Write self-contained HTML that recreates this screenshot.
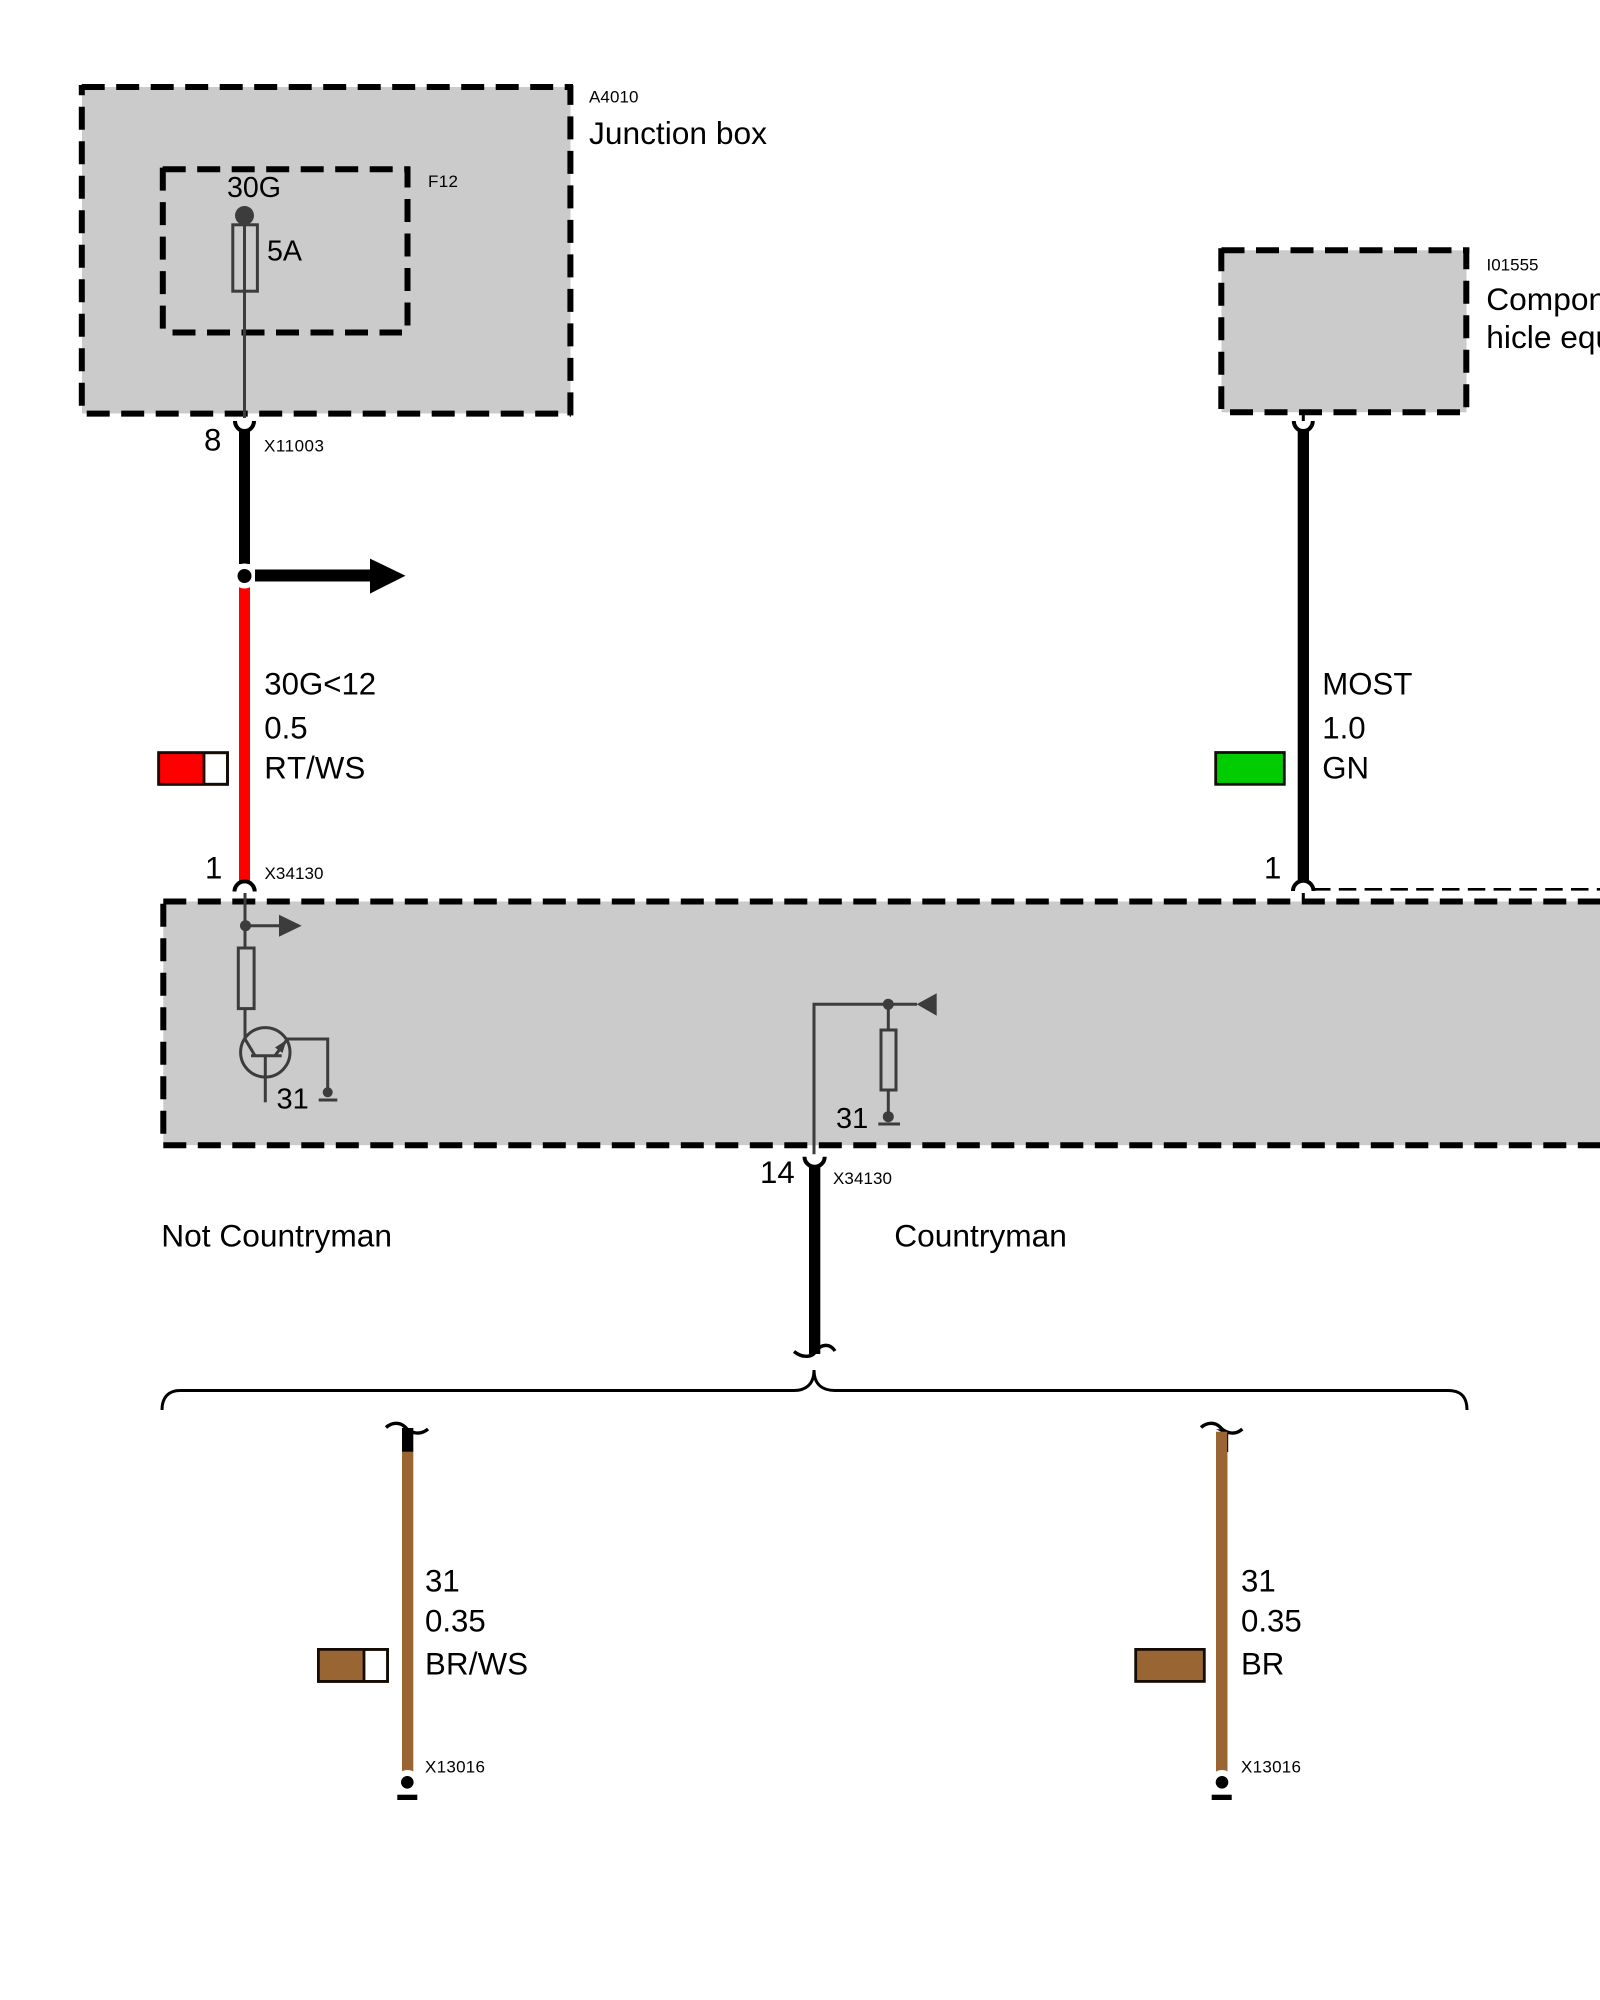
<!DOCTYPE html>
<html><head><meta charset="utf-8"><style>
html,body{margin:0;padding:0;background:#fff;width:1600px;height:2000px;overflow:hidden}
svg{display:block}
text{font-family:"Liberation Sans",sans-serif;fill:#000}
.s{font-size:17px}.m{font-size:31.2px}.l{font-size:31.7px}
.d{stroke:#000;stroke-width:6;stroke-dasharray:23 11.5;fill:none}
.g{stroke:#3c3c3c;stroke-width:3;fill:none}
.gf{fill:#3c3c3c}
.k{stroke:#000;stroke-width:3.4;fill:none}
.c{stroke:#000;stroke-width:4;fill:none}
.sw{stroke:#140c04;stroke-width:2.8}
</style></head><body>
<svg width="1600" height="2000" viewBox="0 0 1600 2000" xmlns="http://www.w3.org/2000/svg">
<rect width="1600" height="2000" fill="#fff"/>
<!-- Junction box -->
<rect x="82" y="87" width="488.5" height="326.5" fill="#cbcbcb"/>
<line class="d" x1="81.7" y1="87" x2="573" y2="87"/>
<line class="d" x1="81.8" y1="85" x2="81.8" y2="407.5" stroke-dashoffset="12.7"/>
<line class="d" x1="570.4" y1="85" x2="570.4" y2="416" stroke-dashoffset="3.1"/>
<line class="d" x1="86.7" y1="413.6" x2="571" y2="413.6"/>
<!-- Inner F12 -->
<line class="d" x1="160" y1="169.3" x2="410" y2="169.3" stroke-dashoffset="-2.7"/>
<line class="d" x1="162.8" y1="167" x2="162.8" y2="330" stroke-dashoffset="-0.6"/>
<line class="d" x1="407.5" y1="166.5" x2="407.5" y2="326.5" stroke-dashoffset="2"/>
<line class="d" x1="172.5" y1="332.5" x2="402" y2="332.5"/>
<rect class="g" x="232.8" y="224.8" width="24.6" height="66.4"/>
<line class="g" x1="244.5" y1="215" x2="244.5" y2="418"/>
<ellipse class="gf" cx="244.5" cy="215.5" rx="9.5" ry="9.5"/>
<text x="227" y="197.2" style="font-size:28.6px">30G</text>
<text x="267" y="260.5" style="font-size:28.6px">5A</text>
<text class="s" x="428" y="187" textLength="30">F12</text>
<text class="s" x="589" y="102.5" textLength="49.5">A4010</text>
<text class="l" x="589" y="144">Junction box</text>
<!-- Wire 1 top -->
<path class="c" d="M235,421 A9.5,10 0 0 0 254,421"/>
<rect x="239" y="430" width="11" height="134" fill="#000"/>
<text class="m" x="204" y="450.5">8</text>
<text class="s" x="264" y="451.5" textLength="60">X11003</text>
<!-- junction & arrow -->
<rect x="239" y="587" width="11" height="294" fill="#ff0000"/>
<circle cx="244.5" cy="576" r="12.5" fill="#fff"/>
<circle cx="244.5" cy="576" r="7" fill="#000"/>
<rect x="255" y="569.5" width="116" height="12" fill="#000"/>
<polygon points="370,558.6 405.5,575.7 370,593.6" fill="#000"/>
<text class="m" x="264.3" y="694.7">30G&lt;12</text>
<text class="m" x="264.3" y="738.5">0.5</text>
<text class="m" x="264.3" y="778.5" style="font-kerning:none" textLength="101">RT/WS</text>
<rect class="sw" x="158.7" y="752.7" width="68.8" height="31.6" fill="#fff"/>
<rect x="158.7" y="752.7" width="45.3" height="31.6" fill="#ff0000"/>
<rect class="sw" x="158.7" y="752.7" width="68.8" height="31.6" fill="none"/>
<line class="sw" x1="204" y1="752" x2="204" y2="785"/>
<!-- Component box -->
<rect x="1221.5" y="250.3" width="245" height="162" fill="#cbcbcb"/>
<line class="d" x1="1221.5" y1="250.3" x2="1469.3" y2="250.3"/>
<line class="d" x1="1221.3" y1="248.2" x2="1221.3" y2="409"/>
<line class="d" x1="1466.3" y1="248" x2="1466.3" y2="408" stroke-dashoffset="1.8"/>
<line class="d" x1="1230" y1="412.3" x2="1460" y2="412.3"/>
<line x1="1303.3" y1="412" x2="1303.3" y2="421" stroke="#000" stroke-width="3"/>
<text class="s" x="1486.5" y="270.5" textLength="52">I01555</text>
<text class="l" x="1486.3" y="310">Component of ve-</text>
<text class="l" x="1486.3" y="348">hicle equipment</text>
<path class="c" d="M1293.8,421 A9.5,10 0 0 0 1312.8,421"/>
<rect x="1297.7" y="430" width="11.3" height="450" fill="#000"/>
<text class="m" x="1322.3" y="694.7">MOST</text>
<text class="m" x="1322.3" y="738.5">1.0</text>
<text class="m" x="1322.3" y="778.5">GN</text>
<rect class="sw" x="1215.7" y="752.5" width="68.6" height="31.8" fill="#00cc00"/>
<text class="m" x="1264" y="878.7">1</text>
<!-- Main module -->
<rect x="163.3" y="901.5" width="1437" height="243.7" fill="#cbcbcb"/>
<line class="d" x1="163.3" y1="901.5" x2="1600" y2="901.5"/>
<line class="d" x1="163.3" y1="903.8" x2="163.3" y2="1135"/>
<line class="d" x1="163.3" y1="1145.2" x2="1600" y2="1145.2"/>
<path class="c" d="M234.5,891.5 A10,10 0 0 1 254.7,891.5"/>
<path class="c" d="M1293,891 A10,10 0 0 1 1313.5,891"/>
<line x1="1313" y1="889.3" x2="1600" y2="889.3" stroke="#000" stroke-width="2.6" stroke-dasharray="17.5 8.3"/>
<line x1="1303.3" y1="893" x2="1303.3" y2="901" stroke="#000" stroke-width="3"/>
<text class="m" x="205" y="878.7">1</text>
<text class="s" x="264.5" y="879" textLength="59">X34130</text>
<!-- transistor part -->
<line class="g" x1="245" y1="893" x2="245" y2="947.7"/>
<line class="g" x1="245" y1="1009" x2="245" y2="1039"/>
<circle class="gf" cx="245.5" cy="925.7" r="5.5"/>
<line class="g" x1="245" y1="925.7" x2="280" y2="925.7"/>
<polygon class="gf" points="279,914.7 301.7,925.7 279,936.7"/>
<rect class="g" x="238.3" y="948" width="15.8" height="60.6"/>
<circle class="g" cx="265.3" cy="1052.3" r="24.7"/>
<line class="g" x1="251" y1="1055.7" x2="281.7" y2="1055.7"/>
<line class="g" x1="265.3" y1="1055.7" x2="265.3" y2="1102.3"/>
<line class="g" x1="245" y1="1039" x2="255" y2="1055.7"/>
<line class="g" x1="275" y1="1055.7" x2="286.7" y2="1040"/>
<polygon class="gf" points="286.5,1040 275,1047.5 282.5,1053"/>
<path class="g" d="M286.7,1039 H327.7 V1092"/>
<circle class="gf" cx="327.7" cy="1092.3" r="5"/>
<line class="g" x1="318.7" y1="1100" x2="337.3" y2="1100"/>
<text x="276.5" y="1108.3" style="font-size:29px">31</text>
<!-- right of module centre -->
<path class="g" d="M814,1154.3 V1004.3 H917"/>
<circle class="gf" cx="888.3" cy="1004.3" r="5.5"/>
<polygon class="gf" points="936.7,993.3 936.7,1015.7 916.7,1004.3"/>
<rect class="g" x="881" y="1030" width="15" height="60"/>
<line class="g" x1="888.3" y1="1004" x2="888.3" y2="1030"/>
<line class="g" x1="888.3" y1="1090" x2="888.3" y2="1116"/>
<circle class="gf" cx="888.3" cy="1116.7" r="5.5"/>
<line class="g" x1="878.3" y1="1124" x2="900" y2="1124"/>
<text x="836" y="1128" style="font-size:29px">31</text>
<!-- wire 14 -->
<path class="c" d="M804.5,1156.7 A10,10 0 0 0 824.7,1156.7"/>
<rect x="809" y="1165" width="11.3" height="189" fill="#000"/>
<text class="m" x="760" y="1183">14</text>
<text class="s" x="833" y="1184" textLength="59">X34130</text>
<text class="l" x="161.3" y="1246.7">Not Countryman</text>
<text class="l" x="894.3" y="1246.7">Countryman</text>
<path class="k" d="M794,1351.5 C802,1358 812,1358 816,1351 C821,1344 830,1343 835,1351"/>
<path class="k" d="M162,1410 C162,1396 170,1390.5 180,1390.5 L794,1390.5 C805,1390.5 814,1385 814,1370 C814,1385 823,1390.5 835,1390.5 L1448,1390.5 C1460,1390.5 1467,1396 1467,1410" style="stroke-width:3"/>
<!-- left brown wire -->
<path class="k" d="M386,1427.5 C392,1422 400,1422 405,1427 C410,1433 420,1436 428,1429"/>
<rect x="402" y="1428" width="11.3" height="24" fill="#000"/>
<rect x="402" y="1451.7" width="11.3" height="320" fill="#996633"/>
<circle cx="407.5" cy="1782" r="12" fill="#fff"/>
<circle cx="407.3" cy="1782.3" r="6.3" fill="#000"/>
<rect x="397.3" y="1794.7" width="20" height="5.3" fill="#000"/>
<rect class="sw" x="318.4" y="1649.4" width="69.2" height="32" fill="#fff"/>
<rect x="318.4" y="1649.4" width="45.6" height="32" fill="#996633"/>
<rect class="sw" x="318.4" y="1649.4" width="69.2" height="32" fill="none"/>
<line class="sw" x1="364" y1="1649" x2="364" y2="1682"/>
<text class="m" x="425" y="1591.7">31</text>
<text class="m" x="425" y="1631.7">0.35</text>
<text class="m" x="425" y="1674.3" style="font-kerning:none" textLength="103">BR/WS</text>
<text class="s" x="425" y="1772.7" textLength="60">X13016</text>
<!-- right brown wire -->
<path class="k" d="M1201,1427.5 C1207,1422 1215,1422 1220,1427 C1225,1433 1235,1436 1242.3,1429"/>
<polygon points="1216,1429 1227,1430 1227,1435" fill="#000"/>
<rect x="1216" y="1431.7" width="11.5" height="340" fill="#996633"/>
<line x1="1227.7" y1="1431" x2="1227.7" y2="1452" stroke="#000" stroke-width="1"/>
<circle cx="1222" cy="1782" r="12" fill="#fff"/>
<circle cx="1222" cy="1782.3" r="6.3" fill="#000"/>
<rect x="1211.7" y="1794.7" width="20" height="5.3" fill="#000"/>
<rect class="sw" x="1135.7" y="1649.4" width="68.6" height="32" fill="#996633"/>
<text class="m" x="1241" y="1591.7">31</text>
<text class="m" x="1241" y="1631.7">0.35</text>
<text class="m" x="1241" y="1674.3">BR</text>
<text class="s" x="1241" y="1772.7" textLength="60">X13016</text>
</svg>
</body></html>
